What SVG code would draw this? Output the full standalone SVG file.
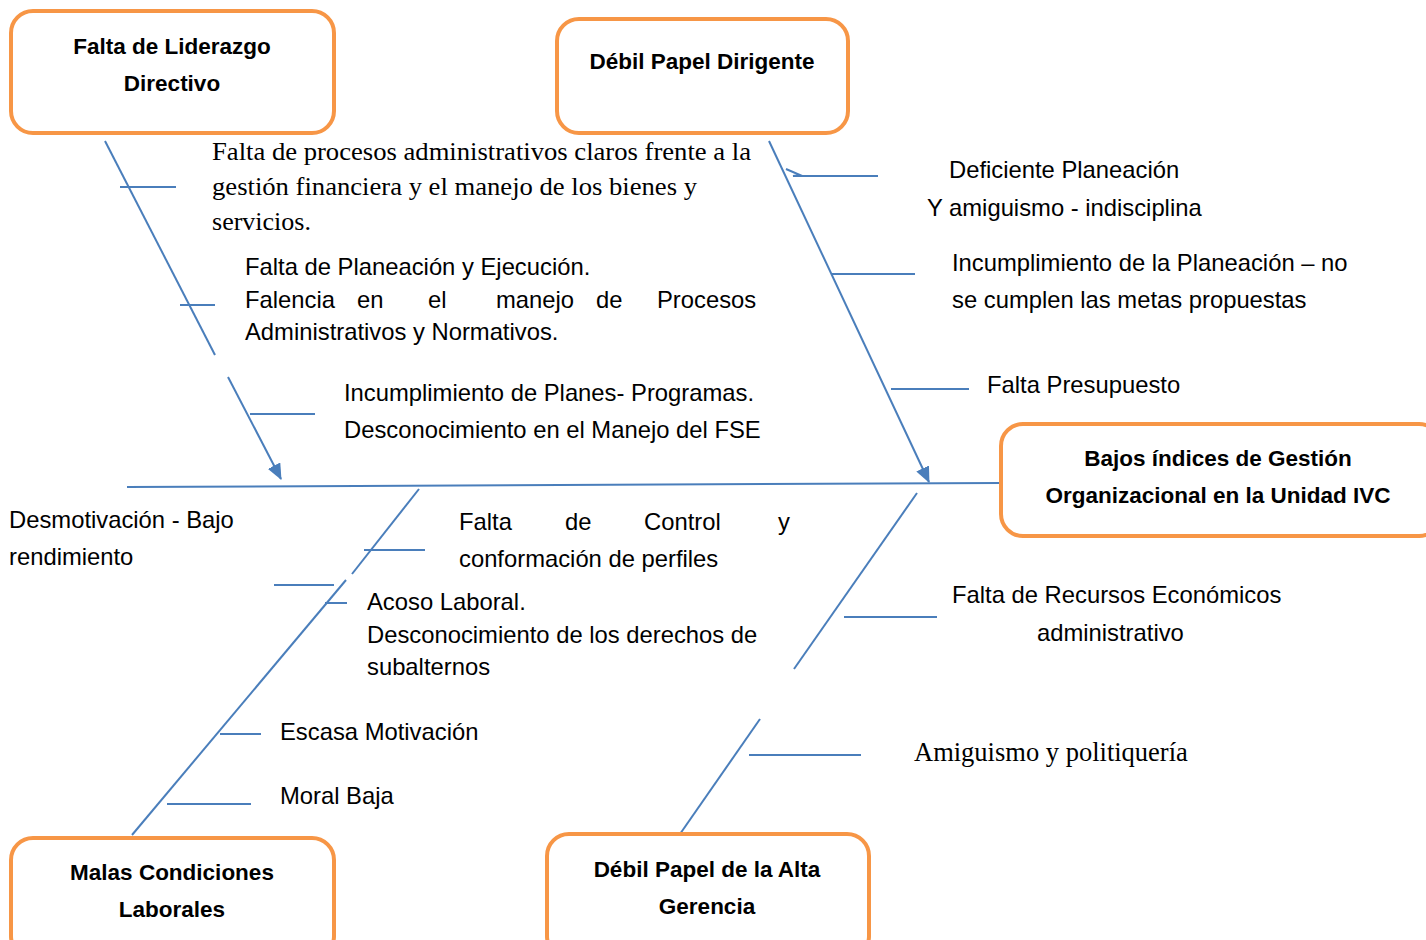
<svg xmlns="http://www.w3.org/2000/svg" width="1426" height="940" viewBox="0 0 1426 940">
<style>
.box{fill:#fff;stroke:#F79646;stroke-width:4}
.bt{font-family:"Liberation Sans",Arial,sans-serif;font-weight:bold;font-size:22.5px;fill:#000;text-anchor:middle}
.t{font-family:"Liberation Sans",Arial,sans-serif;font-size:23.8px;fill:#000}
.s{font-family:"Liberation Serif","Times New Roman",serif;font-size:25px;fill:#000}
.ln{stroke:#4A7EBB;stroke-width:2;fill:none}
</style>
<defs>
<marker id="ahb" markerWidth="16" markerHeight="14" refX="15" refY="7" orient="auto" markerUnits="userSpaceOnUse" viewBox="0 0 16 14">
<path d="M0,0 L16,7 L0,14 z" fill="#4A7EBB"/>
</marker>
<clipPath id="c1"><rect x="200" y="138" width="570" height="92"/></clipPath>
</defs>
<rect width="1426" height="940" fill="#fff"/>
<g id="connectors">
<line class="ln" x1="127" y1="487" x2="1000" y2="483"/>
<line class="ln" x1="105" y1="141" x2="215" y2="355"/>
<line class="ln" x1="228" y1="377" x2="281" y2="479" marker-end="url(#ahb)"/>
<line class="ln" x1="120" y1="187" x2="176" y2="187"/>
<line class="ln" x1="180" y1="305" x2="215" y2="305"/>
<line class="ln" x1="250" y1="414" x2="315" y2="414"/>
<line class="ln" x1="769" y1="141" x2="929" y2="482" marker-end="url(#ahb)"/>
<polyline class="ln" points="786,169 800,175 793,176 878,176"/>
<line class="ln" x1="831" y1="274" x2="915" y2="274"/>
<line class="ln" x1="891" y1="389" x2="969" y2="389"/>
<line class="ln" x1="419" y1="489" x2="352" y2="574"/>
<line class="ln" x1="346" y1="580" x2="132" y2="835"/>
<line class="ln" x1="364" y1="550" x2="425" y2="550"/>
<line class="ln" x1="274" y1="585" x2="334" y2="585"/>
<line class="ln" x1="325" y1="603" x2="347" y2="603"/>
<line class="ln" x1="220" y1="734" x2="261" y2="734"/>
<line class="ln" x1="167" y1="804" x2="251" y2="804"/>
<line class="ln" x1="917" y1="493" x2="794" y2="669"/>
<line class="ln" x1="760" y1="719" x2="680" y2="834"/>
<line class="ln" x1="844" y1="617" x2="937" y2="617"/>
<line class="ln" x1="749" y1="755" x2="861" y2="755"/>
</g>
<g id="node-liderazgo">
<rect class="box" x="11" y="11" width="323" height="122" rx="22"/>
<text class="bt" x="172" y="54">Falta de Liderazgo</text>
<text class="bt" x="172" y="91">Directivo</text>
</g>
<g id="node-dirigente">
<rect class="box" x="557" y="19" width="291" height="114" rx="22"/>
<text class="bt" x="702" y="69">Débil Papel Dirigente</text>
</g>
<g id="node-efecto">
<rect class="box" x="1001" y="424" width="440" height="112" rx="22"/>
<text class="bt" x="1218" y="466">Bajos índices de Gestión</text>
<text class="bt" x="1218" y="503">Organizacional en la Unidad IVC</text>
</g>
<g id="node-laborales">
<rect class="box" x="11" y="838" width="323" height="120" rx="22"/>
<text class="bt" x="172" y="880">Malas Condiciones</text>
<text class="bt" x="172" y="917">Laborales</text>
</g>
<g id="node-gerencia">
<rect class="box" x="547" y="834" width="322" height="124" rx="22"/>
<text class="bt" x="707" y="877">Débil Papel de la Alta</text>
<text class="bt" x="707" y="914">Gerencia</text>
</g>
<g id="labels">
<g clip-path="url(#c1)">
<text class="s" x="212" y="160" textLength="539" lengthAdjust="spacingAndGlyphs">Falta de procesos administrativos claros frente a la</text>
<text class="s" x="212" y="195" textLength="485" lengthAdjust="spacingAndGlyphs">gestión financiera y el manejo de los bienes y</text>
<text class="s" x="212" y="230" textLength="99" lengthAdjust="spacingAndGlyphs">servicios.</text>
</g>
<text class="t" x="245" y="275">Falta de Planeación y Ejecución.</text>
<text class="t" y="308"><tspan x="245">Falencia</tspan><tspan x="357">en</tspan><tspan x="428">el</tspan><tspan x="496">manejo</tspan><tspan x="596">de</tspan><tspan x="657">Procesos</tspan></text>
<text class="t" x="245" y="340">Administrativos y Normativos.</text>
<text class="t" x="344" y="401">Incumplimiento de Planes- Programas.</text>
<text class="t" x="344" y="438">Desconocimiento en el Manejo del FSE</text>
<text class="t" x="949" y="178">Deficiente Planeación</text>
<text class="t" x="927" y="216">Y amiguismo - indisciplina</text>
<text class="t" x="952" y="271">Incumplimiento de la Planeación – no</text>
<text class="t" x="952" y="308">se cumplen las metas propuestas</text>
<text class="t" x="987" y="393">Falta Presupuesto</text>
<text class="t" x="9" y="528">Desmotivación - Bajo</text>
<text class="t" x="9" y="565">rendimiento</text>
<text class="t" y="530"><tspan x="459">Falta</tspan><tspan x="565">de</tspan><tspan x="644">Control</tspan><tspan x="778">y</tspan></text>
<text class="t" x="459" y="567">conformación de perfiles</text>
<text class="t" x="367" y="610">Acoso Laboral.</text>
<text class="t" x="367" y="643">Desconocimiento de los derechos de</text>
<text class="t" x="367" y="675">subalternos</text>
<text class="t" x="280" y="740">Escasa Motivación</text>
<text class="t" x="280" y="804">Moral Baja</text>
<text class="t" x="952" y="603">Falta de Recursos Económicos</text>
<text class="t" x="1037" y="641">administrativo</text>
<text class="s" x="914" y="761" style="font-size:26.5px">Amiguismo y politiquería</text>
</g>
</svg>
